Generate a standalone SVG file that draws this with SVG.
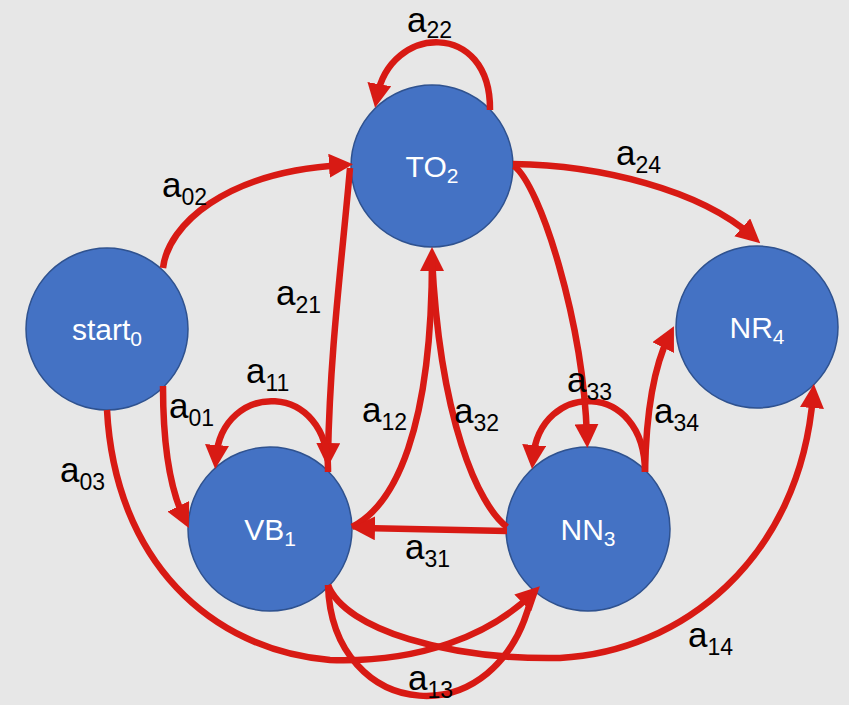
<svg xmlns="http://www.w3.org/2000/svg" width="849" height="705" viewBox="0 0 849 705">
  <defs>
    <marker id="arrow" markerUnits="userSpaceOnUse" viewBox="0 0 24 24" markerWidth="24" markerHeight="24" refX="13" refY="12" orient="auto">
      <path d="M0,0 L24,12 L0,24 z" fill="#d81a14"/>
    </marker>
    <style>
      .node circle { fill: #4472c4; stroke: #2f528f; stroke-width: 1.5; }
      .node text { font-family: "Liberation Sans", Arial, sans-serif; font-size: 30px; fill: #ffffff; text-anchor: middle; }
      .node .nsub { font-size: 21px; }
      .edge { fill: none; stroke: #d81a14; stroke-width: 6.5; }
      .arr { marker-end: url(#arrow); }
      .lbl { font-family: "Liberation Sans", Arial, sans-serif; font-size: 35px; fill: #000000; }
      .lbl .sub { font-size: 23px; }
    </style>
  </defs>

  <rect width="849" height="705" fill="#e7e7e7"/>

  <!-- states -->
  <g id="start0" class="node">
    <circle cx="107" cy="329" r="81"/>
    <text x="107" y="340">start<tspan class="nsub" dy="6">0</tspan></text>
  </g>
  <g id="TO2" class="node">
    <circle cx="432" cy="166" r="81"/>
    <text x="432" y="177">TO<tspan class="nsub" dy="6">2</tspan></text>
  </g>
  <g id="VB1" class="node">
    <circle cx="270" cy="529" r="82"/>
    <text x="270" y="540">VB<tspan class="nsub" dy="6">1</tspan></text>
  </g>
  <g id="NN3" class="node">
    <circle cx="588" cy="529" r="82"/>
    <text x="588" y="540">NN<tspan class="nsub" dy="6">3</tspan></text>
  </g>
  <g id="NR4" class="node">
    <circle cx="757" cy="327" r="81"/>
    <text x="757" y="338">NR<tspan class="nsub" dy="6">4</tspan></text>
  </g>

  <!-- transitions -->
  <g id="connectors">
    <path class="edge arr" d="M490,110 C491,20 390,24 377,97"/>
    <path class="edge arr" d="M163,268 C168,225 225,172 342,165"/>
    <path class="edge arr" d="M350,168 C342,260 330,350 328,456"/>
    <path class="edge arr" d="M328,472 C330,380 222,380 216,458"/>
    <path class="edge arr" d="M163,386 C163,440 168,485 184,518"/>
    <path class="edge arr" d="M352,527 C395,505 432,430 432,258"/>
    <path class="edge" d="M507,527 C478,505 440,420 432,258"/>
    <path class="edge arr" d="M507,531 L362,528"/>
    <path class="edge arr" d="M514,166 C540,185 583,320 587,437"/>
    <path class="edge arr" d="M645,472 C645,380 540,380 533,458"/>
    <path class="edge arr" d="M645,472 C646,420 652,370 669,336"/>
    <path class="edge arr" d="M513,164 C600,165 700,190 752,236"/>
    <path class="edge arr" d="M107,410 C115,560 210,650 330,660 C420,663 490,635 532,594"/>
    <path class="edge" d="M328,585 C332,722 500,740 532,594"/>
    <path class="edge arr" d="M328,585 C345,630 450,660 560,658 C680,652 800,560 813,395"/>
  </g>

  <!-- transition labels -->
  <g id="labels">
    <text class="lbl" x="407" y="32">a<tspan class="sub" dy="6">22</tspan></text>
    <text class="lbl" x="162" y="197">a<tspan class="sub" dy="8">02</tspan></text>
    <text class="lbl" x="616" y="165">a<tspan class="sub" dy="8">24</tspan></text>
    <text class="lbl" x="276" y="305">a<tspan class="sub" dy="8">21</tspan></text>
    <text class="lbl" x="246" y="383">a<tspan class="sub" dy="8">11</tspan></text>
    <text class="lbl" x="169" y="418">a<tspan class="sub" dy="8">01</tspan></text>
    <text class="lbl" x="362" y="422">a<tspan class="sub" dy="8">12</tspan></text>
    <text class="lbl" x="454" y="423">a<tspan class="sub" dy="8">32</tspan></text>
    <text class="lbl" x="567" y="392">a<tspan class="sub" dy="8">33</tspan></text>
    <text class="lbl" x="654" y="423">a<tspan class="sub" dy="8">34</tspan></text>
    <text class="lbl" x="60" y="482">a<tspan class="sub" dy="8">03</tspan></text>
    <text class="lbl" x="405" y="559">a<tspan class="sub" dy="8">31</tspan></text>
    <text class="lbl" x="408" y="690">a<tspan class="sub" dy="8">13</tspan></text>
    <text class="lbl" x="688" y="647">a<tspan class="sub" dy="8">14</tspan></text>
  </g>
</svg>
